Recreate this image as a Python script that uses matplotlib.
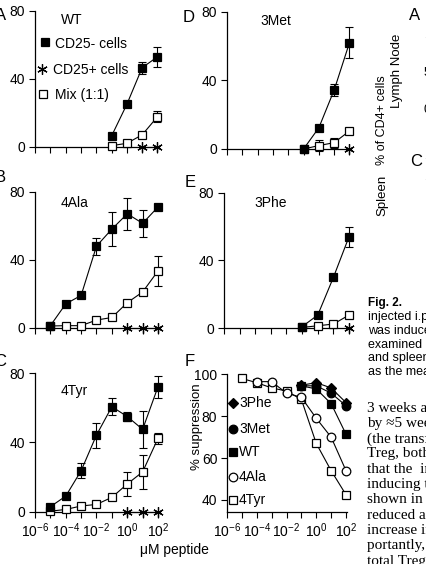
import numpy as np
import matplotlib
matplotlib.use("Agg")
import matplotlib.pyplot as plt
from matplotlib.lines import Line2D
from matplotlib.ticker import FixedLocator, NullLocator

plt.rcParams['font.family'] = ['Liberation Sans', 'DejaVu Sans']
plt.rcParams['mathtext.fontset'] = 'custom'
plt.rcParams['mathtext.rm'] = 'Liberation Sans'
plt.rcParams['mathtext.it'] = 'Liberation Sans:italic'
plt.rcParams['mathtext.bf'] = 'Liberation Sans:bold'

# ---------------- data ----------------
dose_exp = [-5, -4, -3, -2, -1, 0, 1, 2]          # log10(uM peptide)
x_tick_exp = [-6, -5, -4, -3, -2, -1, 0, 1, 2]
x_tick_labels = [r'$10^{-6}$', '', r'$10^{-4}$', '', r'$10^{-2}$', '', r'$10^{0}$', '', r'$10^{2}$']
y_ticks_prolif = [0, 40, 80]
y_ticks_supp = [40, 60, 80, 100]

# A  WT
a_neg_exp = [-1, 0, 1, 2]
a_neg = [6.3, 25, 46.6, 53]
a_neg_err = [0, 0, 3.6, 6]
a_pos_exp = [1, 2]
a_pos = [0, 0]
a_mix_exp = [-1, 0, 1, 2]
a_mix = [0.6, 2, 7, 17.7]
a_mix_err = [0, 0, 0, 3.4]

# B  4Ala
b_neg_exp = [-5, -4, -3, -2, -1, 0, 1, 2]
b_neg = [1.2, 14, 19, 48, 58, 67, 61.4, 71]
b_neg_err = [0, 0, 0, 5, 10, 9.5, 8, 0]
b_pos_exp = [0, 1, 2]
b_pos = [0, 0, 0]
b_mix_exp = [-5, -4, -3, -2, -1, 0, 1, 2]
b_mix = [1, 1.2, 1.2, 4.5, 6, 14.7, 21, 33.4]
b_mix_err = [0, 0, 0, 0, 0, 0, 0, 9]

# C  4Tyr
c_neg_exp = [-5, -4, -3, -2, -1, 0, 1, 2]
c_neg = [2.9, 9, 23.7, 44.3, 60.7, 55, 47.6, 72.2]
c_neg_err = [0, 0, 4.2, 7.2, 5, 2.5, 10.8, 6.4]
c_pos_exp = [0, 1, 2]
c_pos = [0, 0, 0]
c_mix_exp = [-5, -4, -3, -2, -1, 0, 1, 2]
c_mix = [0.3, 1.3, 3.3, 4.2, 8.3, 16, 23, 42.4]
c_mix_err = [0, 0, 0, 0, 0, 7.2, 9.6, 3]

# D  3Met
d_neg_exp = [-1, 0, 1, 2]
d_neg = [0, 12.4, 34.4, 62]
d_neg_err = [0, 0, 3.4, 9.2]
d_pos_exp = [2]
d_pos = [0]
d_mix_exp = [-1, 0, 1, 2]
d_mix = [0, 2, 3.7, 10.5]
d_mix_err = [0, 3, 3, 0]

# E  3Phe
e_neg_exp = [-1, 0, 1, 2]
e_neg = [1, 7.8, 30, 54]
e_neg_err = [0, 0, 0, 6]
e_pos_exp = [2]
e_pos = [0]
e_mix_exp = [-1, 0, 1, 2]
e_mix = [0.5, 1.5, 2.5, 7.8]
e_mix_err = [0, 0, 0, 0]

# F  % suppression
f_labels = ['3Phe', '3Met', 'WT', '4Ala', '4Tyr']
f_3phe_exp = [-1, 0, 1, 2]
f_3phe = [94.8, 96, 93.5, 86.5]
f_3met_exp = [-1, 0, 1, 2]
f_3met = [94.5, 94.5, 91, 85]
f_wt_exp = [-1, 0, 1, 2]
f_wt = [94.5, 93, 86, 71.4]
f_4ala_exp = [-4, -3, -2, -1, 0, 1, 2]
f_4ala = [96.5, 96.5, 91, 89, 79, 70, 54]
f_4tyr_exp = [-5, -4, -3, -2, -1, 0, 1, 2]
f_4tyr = [98, 96, 93.5, 92, 88, 67, 54, 42.5]

legend_a = ['CD25- cells', 'CD25+ cells', 'Mix (1:1)']

# ---------------- figure ----------------
W, H = 427, 564
fig = plt.figure(figsize=(W / 100, H / 100), dpi=100)
fig.patch.set_facecolor('white')

LW = 0.8
STAR = (6, 2, 0)


def fx(x):
    return x / W


def fy(y):
    return 1 - y / H


def T(x, y, s, **kw):
    kw.setdefault('ha', 'center')
    kw.setdefault('va', 'center')
    return fig.text(fx(x), fy(y), s, **kw)


def add_panel(xl, x100, y_lo, y_hi, ylo, yhi, yticks, xlabels=False):
    dec = (x100 - xl) / 8.0
    xr = x100 + 0.1 * dec
    ax = fig.add_axes([fx(xl), fy(y_lo), (xr - xl) / W, (y_lo - y_hi) / H])
    ax.set_xscale('log')
    ax.set_xlim(1e-6, 10 ** 2.1)
    ax.set_ylim(ylo, yhi)
    ax.patch.set_alpha(0)
    for s in ['top', 'right']:
        ax.spines[s].set_visible(False)
    for s in ['left', 'bottom']:
        ax.spines[s].set_linewidth(0.9)
    ax.xaxis.set_major_locator(FixedLocator(10.0 ** np.array(x_tick_exp)))
    ax.xaxis.set_minor_locator(NullLocator())
    ax.set_yticks(yticks)
    ax.tick_params(direction='out', length=4, width=0.8, labelsize=10, pad=3)
    if xlabels:
        ax.set_xticklabels(x_tick_labels)
    else:
        ax.set_xticklabels([''] * len(x_tick_exp))
    return ax


def series(ax, xe, y, err, marker, mfc, ms, z):
    x = 10.0 ** np.array(xe, dtype=float)
    y = np.array(y, dtype=float)
    if err is not None:
        e = np.array(err, dtype=float)
        m = e > 0
        if m.any():
            ax.errorbar(x[m], y[m], yerr=e[m], fmt='none', ecolor='black',
                        elinewidth=LW, capsize=2.6, capthick=LW, zorder=z - 0.5,
                        clip_on=False)
    ax.plot(x, y, color='black', lw=LW, marker=marker, mfc=mfc, mec='black',
            ms=ms, mew=0.9, zorder=z, clip_on=False)


def prolif_panel(ax, neg, pos, mix):
    series(ax, *mix, 's', 'white', 5.6, 3)
    series(ax, *neg, 's', 'black', 5.6, 4)
    x = 10.0 ** np.array(pos[0], dtype=float)
    ax.plot(x, pos[1], color='black', lw=LW, marker=STAR, ms=7.5, mew=0.9,
            zorder=5, clip_on=False)


axA = add_panel(35, 157.5, 146.7, 11, 0, 80, y_ticks_prolif)
prolif_panel(axA, (a_neg_exp, a_neg, a_neg_err), (a_pos_exp, a_pos), (a_mix_exp, a_mix, a_mix_err))
axB = add_panel(35, 158, 327.7, 191.7, 0, 80, y_ticks_prolif)
prolif_panel(axB, (b_neg_exp, b_neg, b_neg_err), (b_pos_exp, b_pos), (b_mix_exp, b_mix, b_mix_err))
axC = add_panel(35, 158, 511.7, 373.3, 0, 80, y_ticks_prolif, xlabels=True)
prolif_panel(axC, (c_neg_exp, c_neg, c_neg_err), (c_pos_exp, c_pos), (c_mix_exp, c_mix, c_mix_err))
axD = add_panel(227, 349.5, 149, 11.7, 0, 80, y_ticks_prolif)
prolif_panel(axD, (d_neg_exp, d_neg, d_neg_err), (d_pos_exp, d_pos), (d_mix_exp, d_mix, d_mix_err))
axE = add_panel(224, 349, 328.3, 192.7, 0, 80, y_ticks_prolif)
prolif_panel(axE, (e_neg_exp, e_neg, e_neg_err), (e_pos_exp, e_pos), (e_mix_exp, e_mix, e_mix_err))
axF = add_panel(227, 346, 511.7, 374.3, 34.4, 100, y_ticks_supp, xlabels=True)
series(axF, f_4tyr_exp, f_4tyr, None, 's', 'white', 6, 3)
series(axF, f_4ala_exp, f_4ala, None, 'o', 'white', 6.2, 4)
series(axF, f_wt_exp, f_wt, None, 's', 'black', 5.6, 5)
series(axF, f_3met_exp, f_3met, None, 'o', 'black', 6.2, 6)
series(axF, f_3phe_exp, f_3phe, None, 'D', 'black', 5, 7)

# panel titles
T(72, 20, 'WT', fontsize=10)
T(276, 21, '3Met', fontsize=10)
T(75, 203, '4Ala', fontsize=10)
T(271, 203, '3Phe', fontsize=10)
T(74, 391, '4Tyr', fontsize=10)

# panel letters (partly cropped at the left edge, as in the scan)
T(6, 15, 'A', fontsize=12, ha='right')
T(6, 178, 'B', fontsize=12, ha='right')
T(6, 362, 'C', fontsize=12, ha='right')
T(189, 17, 'D', fontsize=12)
T(190, 182, 'E', fontsize=12)
T(190, 361, 'F', fontsize=12)

# legend A
leg_marks = [('s', 'black', 5.6, 45, 42), (STAR, 'black', 7.5, 42, 69), ('s', 'white', 5.6, 43, 94)]
leg_text_x = [55, 53, 55]
leg_text_y = [44, 70, 95]
for (mk, fc, ms, mx, my), tx, ty, lab in zip(leg_marks, leg_text_x, leg_text_y, legend_a):
    fig.add_artist(Line2D([fx(mx)], [fy(my)], transform=fig.transFigure, marker=mk,
                          mfc=fc, mec='black', ms=ms, mew=0.9, ls='none'))
    T(tx, ty, lab, fontsize=10, ha='left')

# legend F
f_marks = [('D', 'black', 5), ('o', 'black', 6.2), ('s', 'black', 5.6), ('o', 'white', 6.2), ('s', 'white', 6)]
f_leg_y = [403, 429, 452, 477, 500]
for (mk, fc, ms), ly, lab in zip(f_marks, f_leg_y, f_labels):
    fig.add_artist(Line2D([fx(233)], [fy(ly)], transform=fig.transFigure, marker=mk,
                          mfc=fc, mec='black', ms=ms, mew=0.9, ls='none'))
    T(239, ly, lab, fontsize=10, ha='left')

# axis labels
T(197, 427, '% suppression', fontsize=9.5, rotation=90)
T(174, 550, 'μM peptide', fontsize=10)

# ---- cropped neighbouring material on the right edge ----
T(415, 15, 'A', fontsize=12)
T(416, 162, 'C', fontsize=12)
for yy, s in [(35, '100'), (73, '50'), (110, '0'), (156, '1'), (177, '100')]:
    T(424, yy, s, fontsize=9, ha='left')
T(382, 120, '% of CD4+ cells', fontsize=9, rotation=90)
T(397, 71, 'Lymph Node', fontsize=9.5, rotation=90)
T(382, 195, 'Spleen', fontsize=9.5, rotation=90)

T(368, 303, 'Fig. 2.', fontsize=8.5, ha='left', fontweight='bold')
T(425, 303, 'I', fontsize=8.5, ha='left')
cap_lines = ['injected i.p.', 'was induced', 'examined by', 'and spleen', 'as the mean']
for i, s in enumerate(cap_lines):
    T(368, 317 + 13.8 * i, s, fontsize=9, ha='left')

body_lines = ['3 weeks after', 'by \u22485 weeks', '(the transfer', 'Treg, both', 'that the  in',
              'inducing the', 'shown in Fig', 'reduced also', 'increase in', 'portantly, the',
              'total Treg']
for i, s in enumerate(body_lines):
    T(367, 408 + 15.3 * i, s, fontsize=11, ha='left', family=['Liberation Serif', 'DejaVu Serif'])

fig.savefig('out.png', dpi=100)
